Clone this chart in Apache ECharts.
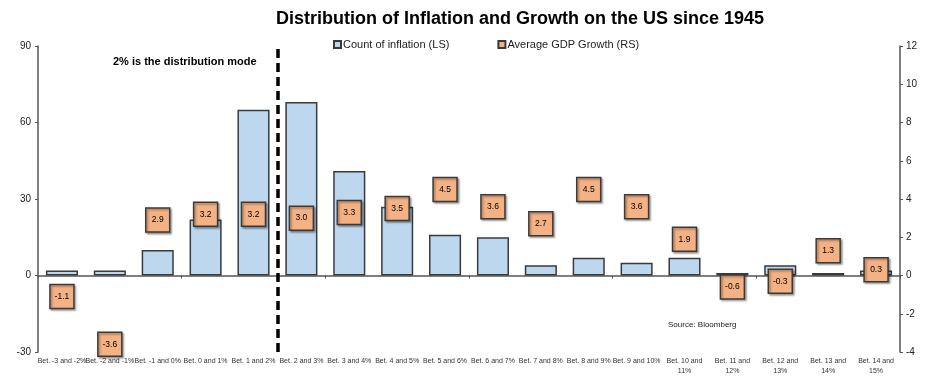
<!DOCTYPE html>
<html><head><meta charset="utf-8">
<script src="https://cdn.jsdelivr.net/npm/echarts@6/dist/echarts.min.js"></script>
<style>html,body{margin:0;padding:0;background:#fff}#c{width:928px;height:380px}</style>
</head><body><div id="c"></div>
<script>
var categories = ["Bet. -3 and -2%","Bet. -2 and -1%","Bet. -1 and 0%","Bet. 0 and 1%","Bet. 1 and 2%","Bet. 2 and 3%","Bet. 3 and 4%","Bet. 4 and 5%","Bet. 5 and 6%","Bet. 6 and 7%","Bet. 7 and 8%","Bet. 8 and 9%","Bet. 9 and 10%","Bet. 10 and\n11%","Bet. 11 and\n12%","Bet. 12 and\n13%","Bet. 13 and\n14%","Bet. 14 and\n15%"];
var inflationCount = [2,2,10,22,65,68,41,27,16,15,4,7,5,7,1,4,1,2];
var gdpGrowth = [-1.1,-3.6,2.9,3.2,3.2,3.0,3.3,3.5,4.5,3.6,2.7,4.5,3.6,1.9,-0.6,-0.3,1.3,0.3];
var leftTicks = {min:-30,max:90,interval:30};
var rightTicks = {min:-4,max:12,interval:2};
var modeBoundary = 5;

var font = 'Liberation Sans, Arial, sans-serif';
var axisColor = '#555';
var chart = echarts.init(document.getElementById('c'));
chart.setOption({
  animation:false,
  textStyle:{fontFamily:font},
  title:{text:'Distribution of Inflation and Growth on the US since 1945',left:271,top:5,
    textStyle:{fontSize:18,fontWeight:'bold',color:'#000',fontFamily:font}},
  legend:{left:328,top:34,itemWidth:7,itemHeight:7,itemGap:48,icon:'rect',
    textStyle:{fontSize:11,color:'#222',fontFamily:font,padding:[0,0,0,-3]},
    data:['Count of inflation (LS)','Average GDP Growth (RS)']},
  grid:{left:38,right:28,top:46,bottom:28},
  xAxis:[
    {type:'category',data:categories,position:'bottom',axisLine:{show:false},axisTick:{show:false},
     axisLabel:{fontSize:7,color:'#333',interval:0,margin:4,lineHeight:10,fontFamily:font}},
    {type:'category',data:categories,position:'bottom',axisLine:{onZero:true,onZeroAxisIndex:0,lineStyle:{color:axisColor,width:1.5}},
     axisTick:{show:true,length:3,lineStyle:{color:axisColor}},axisLabel:{show:false}},
    {type:'value',min:0,max:categories.length,show:false}
  ],
  yAxis:[
    {type:'value',min:leftTicks.min,max:leftTicks.max,interval:leftTicks.interval,position:'left',
     axisLine:{show:true,lineStyle:{color:axisColor,width:1.5}},axisTick:{show:true,length:3,lineStyle:{color:axisColor}},
     splitLine:{show:false},axisLabel:{fontSize:10,color:'#222',margin:7}},
    {type:'value',min:rightTicks.min,max:rightTicks.max,interval:rightTicks.interval,position:'right',
     axisLine:{show:true,lineStyle:{color:axisColor,width:1.5}},axisTick:{show:true,length:3,lineStyle:{color:axisColor}},
     splitLine:{show:false},axisLabel:{fontSize:10,color:'#222',margin:6}}
  ],
  series:[
    {name:'Count of inflation (LS)',type:'bar',xAxisIndex:0,yAxisIndex:0,data:inflationCount,barWidth:'67%',
     itemStyle:{color:'#BDD7EE',borderColor:'#3a3a3a',borderWidth:1.5},z:2},
    {name:'Average GDP Growth (RS)',type:'scatter',xAxisIndex:0,yAxisIndex:1,data:gdpGrowth,symbol:'rect',symbolSize:[24,24],
     itemStyle:{color:'#F4B183',borderColor:'#3a3a3a',borderWidth:1.5,opacity:1,shadowColor:'rgba(0,0,0,0.35)',shadowBlur:2,shadowOffsetX:1.5,shadowOffsetY:1.5},
     label:{show:true,position:'inside',fontSize:8.5,color:'#000',formatter:function(p){return p.value.toFixed(1);}},z:5},
    {name:'mode',type:'line',xAxisIndex:2,yAxisIndex:0,data:[],
     markLine:{silent:true,symbol:['none','none'],label:{show:false},
       lineStyle:{color:'#000',width:3.5,type:[9,5]},data:[{xAxis:modeBoundary}]},z:4}
  ],
  graphic:[
    {type:'text',left:113,top:56,style:{text:'2% is the distribution mode',fontSize:11,fontWeight:'bold',fill:'#000',fontFamily:font}},
    {type:'text',left:668,top:321,style:{text:'Source: Bloomberg',fontSize:8,fill:'#222',fontFamily:font}}
  ]
});
</script></body></html>
